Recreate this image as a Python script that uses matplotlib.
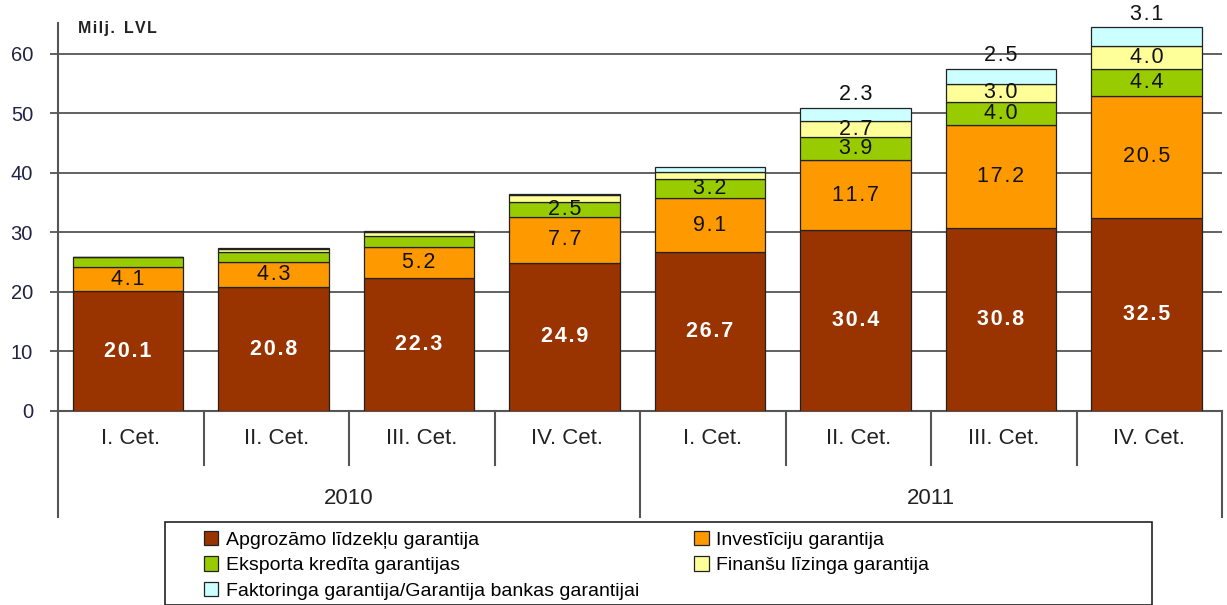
import numpy as np
import matplotlib.pyplot as plt
from matplotlib.patches import Rectangle

plt.rcParams['font.family'] = ['Liberation Sans', 'DejaVu Sans']

quarters = ['I. Cet.', 'II. Cet.', 'III. Cet.', 'IV. Cet.',
            'I. Cet.', 'II. Cet.', 'III. Cet.', 'IV. Cet.']
years = ['2010', '2011']

apgrozamo = [20.1, 20.8, 22.3, 24.9, 26.7, 30.4, 30.8, 32.5]
investiciju = [4.1, 4.3, 5.2, 7.7, 9.1, 11.7, 17.2, 20.5]
eksporta = [1.6, 1.6, 1.9, 2.5, 3.2, 3.9, 4.0, 4.4]
finansu = [0.0, 0.6, 0.7, 1.2, 1.1, 2.7, 3.0, 4.0]
faktoringa = [0.0, 0.1, 0.2, 0.1, 0.9, 2.3, 2.5, 3.1]

series = [
    ('Apgrozāmo līdzekļu garantija', apgrozamo, '#993300'),
    ('Investīciju garantija', investiciju, '#FF9900'),
    ('Eksporta kredīta garantijas', eksporta, '#99CC00'),
    ('Finanšu līzinga garantija', finansu, '#FFFF99'),
    ('Faktoringa garantija/Garantija bankas garantijai', faktoringa, '#CCFFFF'),
]
# which bars get a value label, per series
show_label = [
    range(8),
    range(8),
    range(3, 8),
    range(5, 8),
    range(5, 8),
]


def spaced(s):
    # the original labels have wide letter spacing
    return '\u200a'.join(s)


fig = plt.figure(figsize=(12.27, 6.05), dpi=100)
W, H = 1227, 605
ax = fig.add_axes([58 / W, 194 / H, (1222 - 58) / W, (411 - 23) / H])

x = np.arange(len(quarters))
bottom = np.zeros(len(quarters))
bars = []
for i, (name, vals, col) in enumerate(series):
    vals = np.array(vals)
    b = ax.bar(x - 0.02, vals, width=0.76, bottom=bottom, color=col,
               edgecolor='#222222', linewidth=0.9, label=name, zorder=3)
    bars.append(b)
    for j in show_label[i]:
        if i == 4:
            y = bottom[j] + vals[j] + 2.2
        else:
            y = bottom[j] + vals[j] / 2
        ax.text(x[j] - 0.02, y, spaced(f'{vals[j]:.1f}'), ha='center', va='center',
                fontsize=15.5, color='white' if i == 0 else '#111111',
                fontweight='bold' if i == 0 else 'normal', zorder=5)
    bottom += vals

ax.set_xlim(-0.5, 7.5)
ax.set_ylim(0, 65.2)
ax.set_yticks(np.arange(0, 61, 10))
ax.yaxis.grid(True, color='#555555', linewidth=1.3, zorder=0)
ax.set_axisbelow(True)
ax.tick_params(axis='y', length=6, width=1.3, color='#555555', pad=12,
               labelsize=14.5, labelcolor='#222244')
ax.set_xticks([])
for s in ['top', 'right']:
    ax.spines[s].set_visible(False)
ax.spines['left'].set_color('#555555')
ax.spines['left'].set_linewidth(1.5)
ax.spines['bottom'].set_color('#555555')
ax.spines['bottom'].set_linewidth(1.5)

# category axis below the bars
trans = ax.get_xaxis_transform()
h_ax = (411 - 23)
q_low = -(465 - 411) / h_ax
y_low = -(517 - 411) / h_ax
ax.plot([-0.5, -0.5], [0, y_low], color='#555555', lw=1.5, transform=trans, clip_on=False)
for k in range(1, len(quarters)):
    low = y_low if k % 4 == 0 else q_low
    ax.plot([k - 0.5, k - 0.5], [0, low], color='#555555', lw=1.5,
            transform=trans, clip_on=False)
ax.plot([7.5, 7.5], [0, y_low], color='#555555', lw=1.5, transform=trans, clip_on=False)
for j, q in enumerate(quarters):
    ax.text(x[j], -(438 - 411) / h_ax, q, transform=trans, ha='center', va='center',
            fontsize=16, color='#222222')
for k, yr in enumerate(years):
    ax.text(1.5 + 4 * k, -(498 - 411) / h_ax, yr, transform=trans, ha='center',
            va='center', fontsize=16, color='#222222')

fig.text(78 / W, 1 - 28 / H, spaced('Milj.') + '  ' + spaced('LVL'), fontsize=11.5,
         fontweight='bold', color='#222222', va='center', ha='left')

# legend box
fig.patches.append(Rectangle((165 / W, 0), (1152 - 165) / W, (605 - 522) / H,
                             transform=fig.transFigure, fill=False,
                             edgecolor='#222222', linewidth=1.2))
order = [0, 2, 4, 1, 3]
handles = [bars[i] for i in order]
labels = [series[i][0] for i in order]
fig.legend(handles, labels, loc='upper left', bbox_to_anchor=(196 / W, 1 - 523 / H),
           ncol=2, frameon=False, prop={'size': 14},
           handlelength=0.75, handleheight=0.75, handletextpad=0.4,
           columnspacing=2.8, labelspacing=0.4, borderaxespad=0.0)

fig.savefig('out.png', dpi=100)
